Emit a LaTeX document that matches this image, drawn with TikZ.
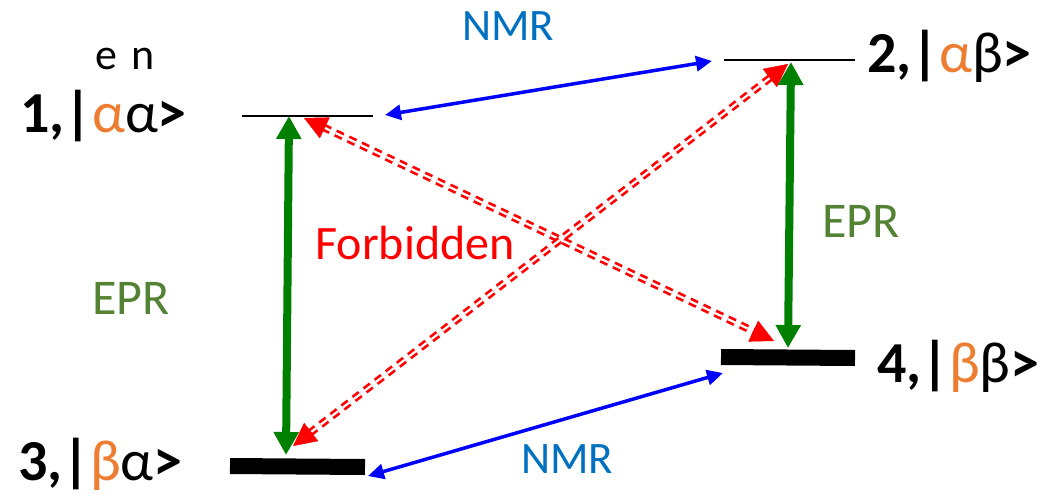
\documentclass[tikz,border=0pt]{standalone}
\usepackage{fontspec}
\setmainfont{Carlito}
\usetikzlibrary{arrows.meta,calc}
\definecolor{orng}{HTML}{ED7D31}
\definecolor{nmrc}{HTML}{0070C0}
\definecolor{eprc}{HTML}{548235}
\definecolor{garr}{HTML}{008000}
\definecolor{barr}{HTML}{0000FF}
\definecolor{rarr}{HTML}{FF0000}
\begin{document}
\begin{tikzpicture}[x=1pt,y=-1pt,
  lvlthin/.style={draw=black,line width=2pt},
  lvlthick/.style={draw=black,line width=16pt},
  statelabel/.style={anchor=base west,inner sep=0pt,font=\fontsize{58}{60}\selectfont\bfseries},
  nmrlabel/.style={text=nmrc,inner sep=0pt,font=\fontsize{45}{50}\selectfont},
  eprlabel/.style={text=eprc,inner sep=0pt,font=\fontsize{50}{55}\selectfont},
  eprarrow/.style={draw=garr,line width=8pt,{Triangle[length=23pt,width=24pt]}-{Triangle[length=23pt,width=24pt]}},
  nmrarrow/.style={draw=barr,line width=3.5pt,{Triangle[length=16pt,width=15pt]}-{Triangle[length=16pt,width=15pt]}},
  forbline/.style={draw=rarr,line width=2.7pt,double=white,double distance=2.2pt,dash pattern=on 8pt off 6pt},
  forbtip/.style={draw=rarr,fill=rarr,line width=0.5pt,-{Triangle[length=23pt,width=23pt]}}
]
\useasboundingbox (0,0) rectangle (1046,496);
% levels
\draw[lvlthin] (242,116) coordinate (l1a) -- (373,116) coordinate (l1b);
\draw[lvlthin] (724,60) coordinate (l2a) -- (855,60) coordinate (l2b);
\draw[lvlthick] (230,466) coordinate (l3a) -- (365,467) coordinate (l3b);
\draw[lvlthick] (721,357) coordinate (l4a) -- (855,358) coordinate (l4b);
% labels
\node[anchor=base,inner sep=0pt,font=\fontsize{44}{48}\selectfont] (en) at (125,69) {e\hspace{0.3em}n};
\node[statelabel] (s1) at (20,132) {1,|{\mdseries\color{orng}α}{\mdseries α}>};
\node[statelabel] (s2) at (867,72) {2,|{\mdseries\color{orng}α}{\mdseries β}>};
\node[statelabel] (s3) at (18,480) {3,|{\mdseries\color{orng}β}{\mdseries α}>};
\node[statelabel] (s4) at (877,382) {4,|{\mdseries\color{orng}β}{\mdseries β}>};
\node[nmrlabel] (nmrt) at (508,26) {NMR};
\node[nmrlabel] (nmrb) at (567,459) {NMR};
\node[eprlabel] (eprl) at (131,298) {EPR};
\node[eprlabel] (eprr) at (861,221) {EPR};
\node[text=rarr,inner sep=0pt,font=\fontsize{48}{52}\selectfont] (forb) at (415,243) {Forbidden};
% endpoints
\coordinate (g1a) at (289,116);
\coordinate (g1b) at (286,455);
\coordinate (g2a) at (791,62);
\coordinate (g2b) at (788,348);
\coordinate (b1a) at (385,115);
\coordinate (b1b) at (712,61);
\coordinate (b2a) at (368,476);
\coordinate (b2b) at (723,373);
\coordinate (r1a) at (304,118);
\coordinate (r1b) at (774,341);
\coordinate (r2a) at (293,446);
\coordinate (r2b) at (788,64);
% forbidden
\draw[forbline] ($(r1a)!21pt!(r1b)$) -- ($(r1b)!21pt!(r1a)$);
\draw[forbline] ($(r2a)!21pt!(r2b)$) -- ($(r2b)!21pt!(r2a)$);
\draw[forbtip] ($(r1a)!22pt!(r1b)$) -- (r1a);
\draw[forbtip] ($(r1b)!22pt!(r1a)$) -- (r1b);
\draw[forbtip] ($(r2a)!22pt!(r2b)$) -- (r2a);
\draw[forbtip] ($(r2b)!22pt!(r2a)$) -- (r2b);
% EPR
\draw[eprarrow] (g1a) -- (g1b);
\draw[eprarrow] (g2a) -- (g2b);
% NMR
\draw[nmrarrow] (b1a) -- (b1b);
\draw[nmrarrow] (b2a) -- (b2b);
\end{tikzpicture}
\end{document}
